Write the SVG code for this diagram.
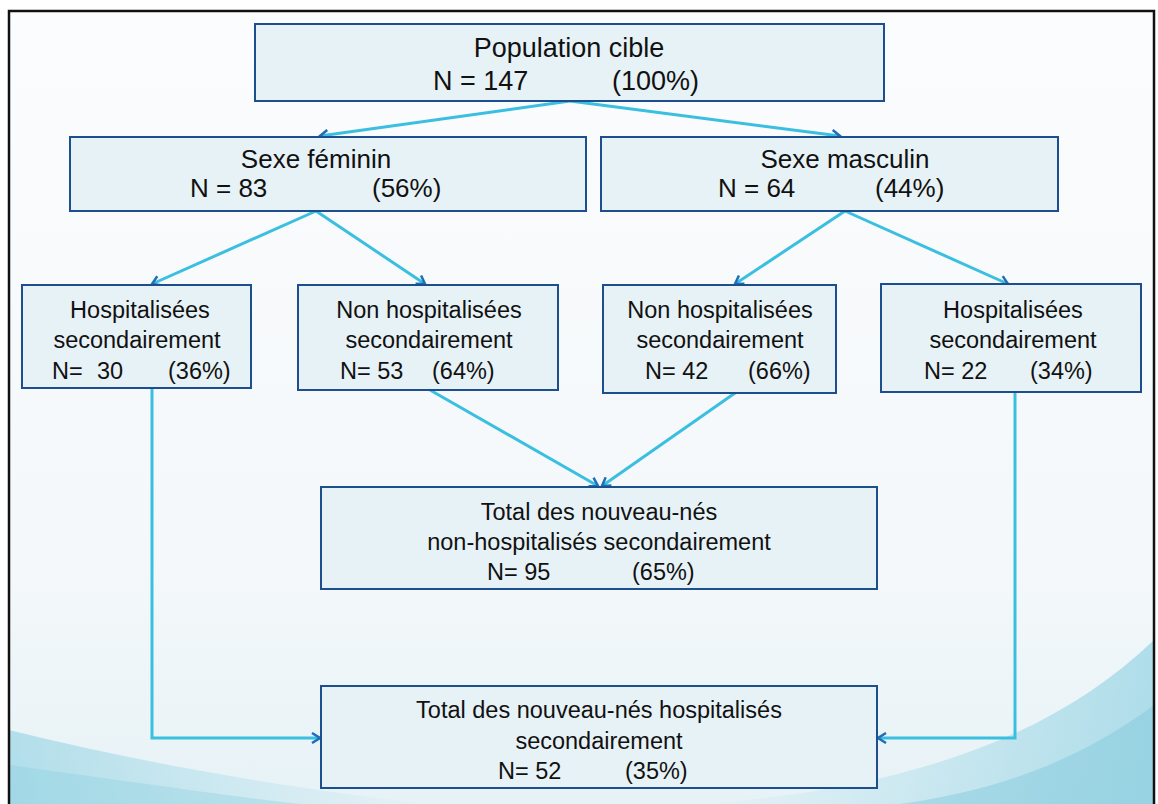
<svg xmlns="http://www.w3.org/2000/svg" width="1158" height="804" viewBox="0 0 1158 804">
<defs>
<linearGradient id="bg" x1="0" y1="0" x2="0" y2="1">
<stop offset="0" stop-color="#fbfcfd"/>
<stop offset="0.7" stop-color="#f4f8fa"/>
<stop offset="1" stop-color="#e6f2f6"/>
</linearGradient>
<linearGradient id="waveL" x1="0" y1="0" x2="1" y2="0">
<stop offset="0" stop-color="#84cde0"/>
<stop offset="1" stop-color="#84cde0" stop-opacity="0"/>
</linearGradient>
<linearGradient id="waveR" x1="1" y1="0" x2="0" y2="0">
<stop offset="0" stop-color="#84cde0"/>
<stop offset="1" stop-color="#84cde0" stop-opacity="0"/>
</linearGradient>
<marker id="arr" markerWidth="12" markerHeight="12" refX="10" refY="6" orient="auto" markerUnits="userSpaceOnUse">
<polyline points="2,1 10,6 2,11" fill="none" stroke="#1f6fb8" stroke-width="2.5"/>
</marker>
<style>
.box{fill:#e7f2f7;stroke:#1d4e8e;stroke-width:2}
.t{font-family:"Liberation Sans",Arial,sans-serif;fill:#111}
.top{font-size:27px}
.big{font-size:26px}
.sm{font-size:23.5px}
.c{text-anchor:middle}
.con{fill:none;stroke:#3bbfe0;stroke-width:3}
</style>
</defs>
<rect x="0" y="0" width="1158" height="804" fill="#ffffff"/>
<rect x="9" y="11" width="1145" height="800" fill="url(#bg)"/>
<path d="M9,730 C150,765 300,790 430,804 L9,804 Z" fill="url(#waveL)" opacity="0.55"/>
<path d="M9,765 C120,780 220,795 300,804 L9,804 Z" fill="#86cde0" opacity="0.35"/>
<path d="M1154,640 C1050,740 900,790 700,804 L1154,804 Z" fill="url(#waveR)" opacity="0.6"/>
<path d="M1154,705 C1080,760 1000,790 900,804 L1154,804 Z" fill="#7ec8dc" opacity="0.45"/>
<rect x="9" y="11" width="1145" height="800" fill="none" stroke="#111" stroke-width="2.5"/>

<g id="connectors">
<line class="con" x1="570" y1="101" x2="320" y2="136" marker-end="url(#arr)"/>
<line class="con" x1="570" y1="101" x2="840" y2="136" marker-end="url(#arr)"/>
<line class="con" x1="316" y1="211" x2="152" y2="284" marker-end="url(#arr)"/>
<line class="con" x1="316" y1="211" x2="425" y2="284" marker-end="url(#arr)"/>
<line class="con" x1="845" y1="211" x2="735" y2="284" marker-end="url(#arr)"/>
<line class="con" x1="845" y1="211" x2="1008" y2="284" marker-end="url(#arr)"/>
<line class="con" x1="430" y1="390" x2="598" y2="486" marker-end="url(#arr)"/>
<line class="con" x1="735" y1="393" x2="602" y2="486" marker-end="url(#arr)"/>
<polyline class="con" points="152,388 152,738 320,738" marker-end="url(#arr)"/>
<polyline class="con" points="1015,392 1015,738 878,738" marker-end="url(#arr)"/>
</g>

<g id="n-population">
<rect class="box" x="255" y="24" width="629" height="77"/>
<text class="t top c" x="569" y="57">Population cible</text>
<text class="t top" x="433" y="90">N = 147</text>
<text class="t top" x="612" y="90">(100%)</text>
</g>

<g id="n-feminin">
<rect class="box" x="70" y="137" width="516" height="74"/>
<text class="t big c" x="316" y="168">Sexe féminin</text>
<text class="t big" x="190" y="197">N = 83</text>
<text class="t big" x="372" y="197">(56%)</text>
</g>

<g id="n-masculin">
<rect class="box" x="601" y="137" width="457" height="74"/>
<text class="t big c" x="845" y="168">Sexe masculin</text>
<text class="t big" x="718" y="197">N = 64</text>
<text class="t big" x="875" y="197">(44%)</text>
</g>

<g id="n-hosp-f">
<rect class="box" x="22" y="285" width="229" height="103"/>
<text class="t sm c" x="140" y="318">Hospitalisées</text>
<text class="t sm c" x="137" y="348">secondairement</text>
<text class="t sm" x="52" y="379">N=</text>
<text class="t sm" x="97" y="379">30</text>
<text class="t sm" x="168" y="379">(36%)</text>
</g>

<g id="n-nonhosp-f">
<rect class="box" x="298" y="285" width="260" height="105"/>
<text class="t sm c" x="429" y="318">Non hospitalisées</text>
<text class="t sm c" x="429" y="348">secondairement</text>
<text class="t sm" x="340" y="379">N= 53</text>
<text class="t sm" x="432" y="379">(64%)</text>
</g>

<g id="n-nonhosp-m">
<rect class="box" x="603" y="285" width="233" height="108"/>
<text class="t sm c" x="720" y="318">Non hospitalisées</text>
<text class="t sm c" x="720" y="348">secondairement</text>
<text class="t sm" x="645" y="379">N= 42</text>
<text class="t sm" x="748" y="379">(66%)</text>
</g>

<g id="n-hosp-m">
<rect class="box" x="881" y="284" width="260" height="108"/>
<text class="t sm c" x="1013" y="318">Hospitalisées</text>
<text class="t sm c" x="1013" y="348">secondairement</text>
<text class="t sm" x="924" y="379">N= 22</text>
<text class="t sm" x="1030" y="379">(34%)</text>
</g>

<g id="n-total-nonhosp">
<rect class="box" x="321" y="487" width="556" height="102"/>
<text class="t sm c" x="599" y="520">Total des nouveau-nés</text>
<text class="t sm c" x="599" y="550">non-hospitalisés secondairement</text>
<text class="t sm" x="487" y="580">N= 95</text>
<text class="t sm" x="632" y="580">(65%)</text>
</g>

<g id="n-total-hosp">
<rect class="box" x="321" y="686" width="556" height="102"/>
<text class="t sm c" x="599" y="718">Total des nouveau-nés hospitalisés</text>
<text class="t sm c" x="599" y="749">secondairement</text>
<text class="t sm" x="498" y="779">N= 52</text>
<text class="t sm" x="625" y="779">(35%)</text>
</g>
</svg>
